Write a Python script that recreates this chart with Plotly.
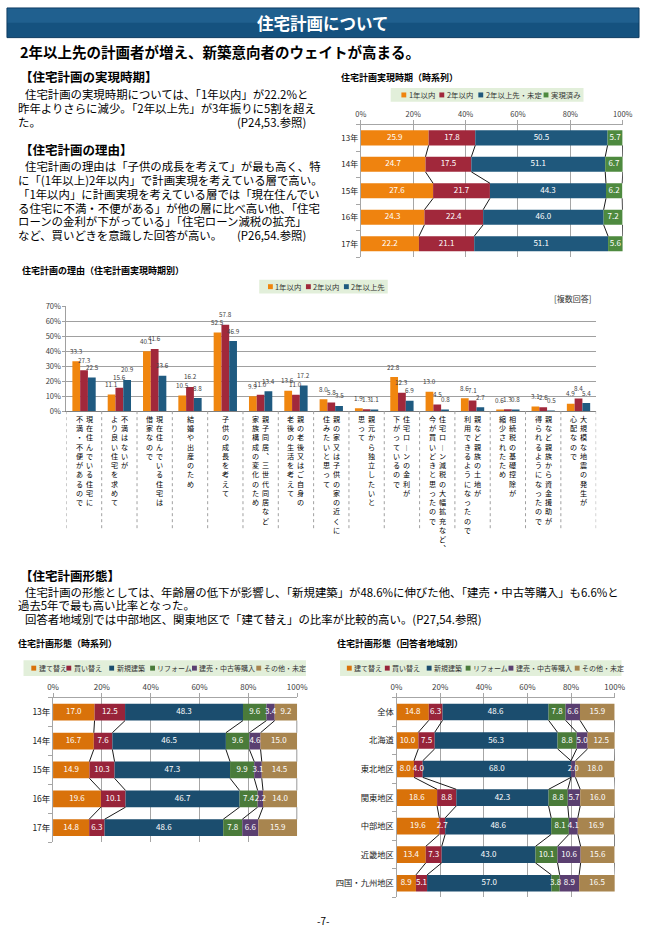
import plotly.graph_objects as go

W, H = 651, 938
FONT = "Noto Sans CJK JP, Noto Sans, DejaVu Sans, sans-serif"

# ---------------- data ----------------
timing_years = ["13年", "14年", "15年", "16年", "17年"]
timing_series = ["1年以内", "2年以内", "2年以上先・未定", "実現済み"]
timing_within1 = [25.9, 24.7, 27.6, 24.3, 22.2]
timing_within2 = [17.8, 17.5, 21.7, 22.4, 21.1]
timing_over2 = [50.5, 51.1, 44.3, 46.0, 51.1]
timing_done = [5.7, 6.7, 6.2, 7.2, 5.6]

reason_labels = [
    ["現在住んでいる住宅に", "不満・不便があるので"],
    ["不満はないが", "より良い住宅を求めて"],
    ["現在住んでいる住宅は", "借家なので"],
    ["結婚や出産のため"],
    ["子供の成長を考えて"],
    ["親子同居、三世代同居など", "家族構成の変化のため"],
    ["親の老後又はご自身の", "老後の生活を考えて"],
    ["親の家又は子供の家の近くに", "住みたいと思って"],
    ["親元から独立したいと", "思って"],
    ["住宅ローンの金利が", "下がっているので"],
    ["住宅ローン減税の大幅拡充など、", "今が買いどきと思ったので"],
    ["親など親族の土地が", "利用できるようになったので"],
    ["相続税の基礎控除が", "縮少されたため"],
    ["親など親族から資金援助が", "得られるようになったので"],
    ["大規模な地震の発生が", "心配なので"],
]
reason_series = ["1年以内", "2年以内", "2年以上先"]
reason_within1 = [33.3, 11.1, 40.1, 10.5, 52.5, 9.9, 13.6, 8.0, 1.9, 22.8, 13.0, 8.6, 0.6, 3.1, 4.9]
reason_within2 = [27.3, 15.6, 41.6, 16.2, 57.8, 11.0, 11.0, 5.8, 1.3, 12.3, 4.5, 7.1, 1.3, 2.6, 8.4]
reason_over2 = [22.5, 20.9, 23.6, 8.8, 46.9, 13.4, 17.2, 3.5, 1.1, 6.9, 0.8, 2.7, 0.8, 0.5, 5.4]

form_series = ["建て替え", "買い替え", "新規建築", "リフォーム", "建売・中古等購入", "その他・未定"]
form_years = ["13年", "14年", "15年", "16年", "17年"]
form_rebuild_y = [17.0, 16.7, 14.9, 19.6, 14.8]
form_replace_y = [12.5, 7.6, 10.3, 10.1, 6.3]
form_new_y = [48.3, 46.5, 47.3, 46.7, 48.6]
form_reform_y = [9.6, 9.6, 9.9, 7.4, 7.8]
form_buy_y = [3.4, 4.6, 3.1, 2.2, 6.6]
form_other_y = [9.2, 15.0, 14.5, 14.0, 15.9]

form_regions = ["全体", "北海道", "東北地区", "関東地区", "中部地区", "近畿地区", "四国・九州地区"]
form_rebuild_r = [14.8, 10.0, 8.0, 18.6, 19.6, 13.4, 8.9]
form_replace_r = [6.3, 7.5, 4.0, 8.8, 2.7, 7.3, 5.1]
form_new_r = [48.6, 56.3, 68.0, 42.3, 48.6, 43.0, 57.0]
form_reform_r = [7.8, 8.8, 0.0, 8.8, 8.1, 10.1, 3.8]
form_buy_r = [6.6, 5.0, 2.0, 5.7, 4.1, 10.6, 8.9]
form_other_r = [15.9, 12.5, 18.0, 16.0, 16.9, 15.6, 16.5]

# ---------------- styles ----------------
TOP_COLORS = ["#EF830F", "#A1283B", "#1F587C", "#4E8A3F"]
MID_COLORS = ["#F0860F", "#A1283B", "#1F5A80"]
FORM_COLORS = ["#D9720A", "#98243A", "#1B4D6E", "#4A7B3A", "#5A3F70", "#A8854F"]
GRID = "#A6A6A6"
LEG_BG = "#E2EFDA"


def fx(x):
    return x / W


def fy(y):
    return 1 - y / H


fig = go.Figure()
annotations = []
shapes = []


def text(x, y, s, size, bold=False, anchor="left", color="#000000", yanchor="middle"):
    annotations.append(dict(
        x=fx(x), y=fy(y), xref="paper", yref="paper", text=("<b>%s</b>" % s) if bold else s,
        showarrow=False, xanchor=anchor, yanchor=yanchor,
        font=dict(size=size, color=color, family=FONT)))


def stacked(xa, ya, cats, names, values, colors, bar_w, tsize):
    n = len(cats)
    pos = list(range(n))
    base = [0.0] * n
    cums = []
    lx, ly, lt = [], [], []
    for name, vals, col in zip(names, values, colors):
        fig.add_trace(go.Bar(
            x=vals, y=pos, base=list(base), orientation="h", name=name,
            marker=dict(color=col, line=dict(width=0)),
            width=bar_w, offset=-bar_w / 2, cliponaxis=False,
            xaxis=xa, yaxis=ya, showlegend=False, hoverinfo="name+x"))
        for i, v in enumerate(vals):
            if v > 0:
                lx.append(base[i] + v / 2)
                ly.append(i)
                lt.append("%.1f" % v)
        base = [b + v for b, v in zip(base, vals)]
        cums.append(list(base))
    xs, ys = [], []
    for cum in cums:
        for i in range(n - 1):
            xs += [cum[i], cum[i + 1], None]
            ys += [i + bar_w / 2, i + 1 - bar_w / 2, None]
    fig.add_trace(go.Scatter(x=xs, y=ys, mode="lines", line=dict(color="#000000", width=0.9),
                             xaxis=xa, yaxis=ya, showlegend=False, hoverinfo="skip"))
    fig.add_trace(go.Scatter(x=lx, y=ly, text=lt, mode="text", textposition="middle center",
                             textfont=dict(color="#FFFFFF", size=tsize, family=FONT),
                             cliponaxis=False, xaxis=xa, yaxis=ya, showlegend=False, hoverinfo="skip"))


def legend(box, sq_x, labels, colors, size=7.2):
    x0, y0, x1, y1 = box
    shapes.append(dict(type="rect", xref="paper", yref="paper", x0=fx(x0), x1=fx(x1),
                       y0=fy(y1), y1=fy(y0), fillcolor=LEG_BG, line=dict(width=0), layer="below"))
    yc = (y0 + y1) / 2
    for sx, lab, col in zip(sq_x, labels, colors):
        shapes.append(dict(type="rect", xref="paper", yref="paper", x0=fx(sx), x1=fx(sx + 5),
                           y0=fy(yc + 2.5), y1=fy(yc - 2.5), fillcolor=col, line=dict(width=0)))
        text(sx + 5.5, yc, lab, size, color="#333333")


# ---------------- header ----------------
shapes.append(dict(type="rect", xref="paper", yref="paper", x0=fx(1), x1=fx(650), y0=fy(32), y1=fy(2),
                   fillcolor="#15527F", line=dict(color="#0C3A60", width=1)))
shapes.append(dict(type="rect", xref="paper", yref="paper", x0=fx(1.5), x1=fx(649.5), y0=fy(17), y1=fy(2.5),
                   fillcolor="#2A6C9C", opacity=0.55, line=dict(width=0)))
text(325.5, 17, "住宅計画について", 16.5, bold=True, anchor="center", color="#FFFFFF")
text(12, 46.5, "2年以上先の計画者が増え、新築意向者のウェイトが高まる。", 14.5, bold=True)

# ---------------- section texts ----------------
P = 11.4
text(12, 71.5, "【住宅計画の実現時期】", 12.5, bold=True)
text(17, 89, "住宅計画の実現時期については、「1年以内」が22.2%と", P)
text(10, 103, "昨年よりさらに減少。「2年以上先」が3年振りに5割を超え", P)
text(10, 117, "た。", P)
text(310, 117, "(P24,53.参照)", P, anchor="right")

text(12, 145, "【住宅計画の理由】", 12.5, bold=True)
reason_text = [
    (17, "住宅計画の理由は「子供の成長を考えて」が最も高く、特"),
    (10, "に「(1年以上)2年以内」で計画実現を考えている層で高い。"),
    (10, "「1年以内」に計画実現を考えている層では「現在住んでい"),
    (10, "る住宅に不満・不便がある」が他の層に比べ高い他、「住宅"),
    (10, "ローンの金利が下がっている」「住宅ローン減税の拡充」"),
    (10, "など、買いどきを意識した回答が高い。"),
]
for k, (x, s) in enumerate(reason_text):
    text(x, 162 + 14 * k, s, P)
text(310, 232, "(P26,54.参照)", P, anchor="right")

text(12, 576, "【住宅計画形態】", 12.5, bold=True)
text(17, 593, "住宅計画の形態としては、年齢層の低下が影響し、「新規建築」が48.6%に伸びた他、「建売・中古等購入」も6.6%と", P)
text(10, 606, "過去5年で最も高い比率となった。", P)
text(17, 620, "回答者地域別では中部地区、関東地区で「建て替え」の比率が比較的高い。(P27,54.参照)", P)

text(325.5, 925, "-7-", 10, anchor="center")

# ---------------- chart 1: timing (top right) ----------------
text(342, 72, "住宅計画実現時期（時系列）", 9, bold=True)
legend((395, 83, 593, 97), [406, 445, 485, 552], timing_series, TOP_COLORS, 7.4)
stacked("x", "y", timing_years, timing_series,
        [timing_within1, timing_within2, timing_over2, timing_done], TOP_COLORS, 0.57, 8)

# ---------------- chart 2: reasons (middle) ----------------
text(14, 268, "住宅計画の理由（住宅計画実現時期別）", 9, bold=True)
legend((260, 277, 392, 291), [269, 308, 347], reason_series, MID_COLORS, 7.4)
text(603, 296, "[複数回答]", 8, anchor="right", color="#333333")
rpos = list(range(len(reason_labels)))
BAR_PX = (606 - 62) / len(reason_labels) * 0.22
for s, (name, vals, col) in enumerate(zip(reason_series, [reason_within1, reason_within2, reason_over2], MID_COLORS)):
    fig.add_trace(go.Bar(
        x=rpos, y=vals, name=name, marker=dict(color=col, line=dict(width=0)),
        xaxis="x2", yaxis="y2", showlegend=False, hoverinfo="name+y"))
    for i, v in enumerate(vals):
        annotations.append(dict(
            x=i, y=v, xref="x2", yref="y2", xshift=(s - 1) * BAR_PX, yshift=10,
            text="%.1f" % v, showarrow=False, xanchor="center", yanchor="middle",
            font=dict(size=6.3, color="#404040", family=FONT)))

VERT = {"ー": "︱", "、": "︑", "。": "︒"}
for i, cols in enumerate(reason_labels):
    offsets = [0] if len(cols) == 1 else [5, -5]
    for col_text, dx in zip(cols, offsets):
        annotations.append(dict(
            x=i, y=fy(411), xref="x2", yref="paper", xshift=dx,
            text="<br>".join(VERT.get(c, c) for c in col_text),
            showarrow=False, xanchor="center", yanchor="top", align="center",
            font=dict(size=7.1, color="#000000", family=FONT)))
for k in range(len(reason_labels) + 1):
    shapes.append(dict(type="line", xref="x2", yref="paper", x0=k - 0.5, x1=k - 0.5,
                       y0=fy(410), y1=fy(530), line=dict(color="#A0A0A0", width=1, dash="dot")))

# ---------------- chart 3: form by year (bottom left) ----------------
text(10, 645, "住宅計画形態（時系列）", 9, bold=True)
legend((18, 662, 308, 678), [26, 62, 106, 148, 191, 257], form_series, FORM_COLORS, 7.0)
stacked("x3", "y3", form_years, form_series,
        [form_rebuild_y, form_replace_y, form_new_y, form_reform_y, form_buy_y, form_other_y],
        FORM_COLORS, 0.58, 8)

# ---------------- chart 4: form by region (bottom right) ----------------
text(338, 645, "住宅計画形態（回答者地域別）", 9, bold=True)
legend((343, 662, 632, 678), [350, 389, 432, 472, 516, 584], form_series, FORM_COLORS, 7.0)
stacked("x4", "y4", form_regions, form_series,
        [form_rebuild_r, form_replace_r, form_new_r, form_reform_r, form_buy_r, form_other_r],
        FORM_COLORS, 0.58, 8)

# ---------------- axes ----------------
pct_vals = [0, 20, 40, 60, 80, 100]
pct_text = ["%d%%" % v for v in pct_vals]


def pct_xaxis(domain, anchor, size):
    return dict(domain=[fx(domain[0]), fx(domain[1])], anchor=anchor, side="top", range=[0, 100],
                tickvals=pct_vals, ticktext=pct_text, tickfont=dict(size=size, color="#404040", family=FONT),
                showgrid=True, gridcolor=GRID, gridwidth=1, showline=True, linecolor=GRID,
                ticks="outside", ticklen=4, tickcolor=GRID, zeroline=False, fixedrange=True)


def cat_yaxis(domain, anchor, cats, size):
    n = len(cats)
    return dict(domain=[fy(domain[1]), fy(domain[0])], anchor=anchor, range=[n - 0.5, -0.5],
                tickvals=list(range(n)), ticktext=cats, ticks="", showgrid=False, zeroline=False,
                showline=True, linecolor=GRID, tickfont=dict(size=size, color="#222222", family=FONT),
                minor=dict(tickvals=[i - 0.5 for i in range(n + 1)], ticks="outside", ticklen=4,
                           tickcolor=GRID, showgrid=False),
                fixedrange=True)


fig.update_layout(
    width=W, height=H, autosize=False, margin=dict(l=0, r=0, t=0, b=0),
    paper_bgcolor="white", plot_bgcolor="white",
    barmode="group", bargap=0.34, bargroupgap=0, showlegend=False,
    font=dict(family=FONT, color="#000000"),
    xaxis=pct_xaxis((364.3, 633.3), "y", 7.5),
    yaxis=cat_yaxis((120, 254), "x", timing_years, 8),
    xaxis2=dict(domain=[fx(62), fx(606)], anchor="y2", range=[-0.5, len(reason_labels) - 0.5],
                showticklabels=False, showgrid=False, showline=True, linecolor="#808080",
                ticks="", zeroline=False, fixedrange=True),
    yaxis2=dict(domain=[fy(410), fy(304)], anchor="x2", range=[0, 70],
                tickvals=[0, 10, 20, 30, 40, 50, 60, 70],
                ticktext=["%d%%" % v for v in [0, 10, 20, 30, 40, 50, 60, 70]],
                tickfont=dict(size=7.5, color="#404040", family=FONT),
                showgrid=True, gridcolor="#A0A0A0", gridwidth=1.3, showline=True, linecolor="#A0A0A0",
                ticks="outside", ticklen=3, tickcolor="#A0A0A0", zeroline=False, fixedrange=True),
    xaxis3=pct_xaxis((48.3, 299), "y3", 8),
    yaxis3=cat_yaxis((700, 846), "x3", form_years, 8.5),
    xaxis4=pct_xaxis((401, 625), "y4", 8),
    yaxis4=cat_yaxis((700, 902), "x4", form_regions, 8.3),
    annotations=annotations,
    shapes=shapes,
)

fig.write_html(
    "out.html",
    config={"displayModeBar": False, "staticPlot": False},
    post_script="document.body.style.margin='0';document.body.style.padding='0';"
                "document.body.style.overflow='hidden';",
)
